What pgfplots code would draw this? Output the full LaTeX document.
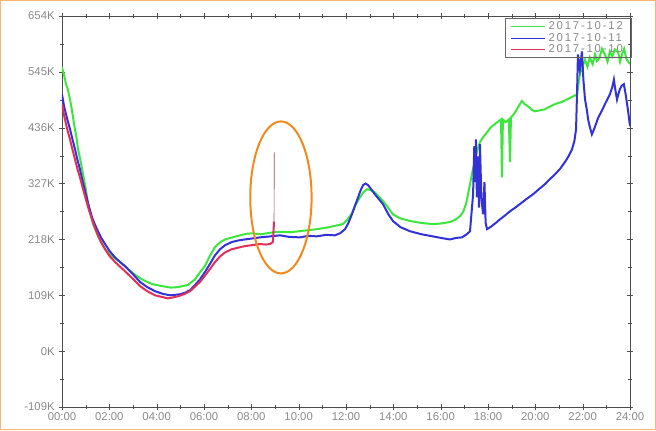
\documentclass[border=0pt]{standalone}
\usepackage{fontspec}
\setmainfont{Liberation Sans}
\usepackage{pgfplots}
\pgfplotsset{compat=1.18}

\definecolor{lgreen}{HTML}{3CE63C}
\definecolor{lblue}{HTML}{3232D8}
\definecolor{lred}{HTML}{E0305A}
\definecolor{frameor}{HTML}{F7B774}
\definecolor{ringor}{HTML}{F08A1E}
\definecolor{lbl}{HTML}{8A8A8A}

\begin{document}
\begin{tikzpicture}
\begin{axis}[
  scale only axis,
  width=426pt, height=293.25pt,
  xmin=0, xmax=24,
  ymin=-109, ymax=654,
  xtick={0,2,...,24},
  xticklabels={00:00,02:00,04:00,06:00,08:00,10:00,12:00,14:00,16:00,18:00,20:00,22:00,24:00},
  ytick={-109,0,109,218,327,436,545,654},
  yticklabels={-109K,0K,109K,218K,327K,436K,545K,654K},
  minor x tick num=1,
  minor y tick num=1,
  tick align=center,
  major tick length=4pt, minor tick length=2.5pt,
  tick style={black!70},
  axis line style={black!70},
  ticklabel style={font=\fontsize{8.5}{9}\selectfont, text=lbl},
  xticklabel style={yshift=1pt},
  legend style={at={(rel axis cs:1.002,0.994)}, anchor=north east,
    font=\fontsize{8.5}{8.5}\selectfont\addfontfeatures{LetterSpace=16}, text=lbl,
    draw=black!60, fill=none,
    inner xsep=4pt, inner ysep=0.5pt, row sep=-3pt, cells={anchor=west},
    /tikz/every even column/.append style={column sep=4pt}},
  legend image code/.code={\draw[#1] (0pt,0pt) -- (26pt,0pt);},
  legend image post style={line width=0.7pt},
  legend cell align=left,
]
% 2017-10-12
\addplot[lgreen, line width=1.5pt] coordinates {
  (0,554) (0.08,540) (0.17,521) (0.25,510) (0.34,491) (0.42,470) (0.51,443) (0.6,420)
  (0.68,394) (0.78,372) (0.89,345) (1.0,318) (1.10,287) (1.2,268) (1.31,248) (1.42,236)
  (1.52,224) (1.66,212) (1.82,199) (1.96,192) (2.11,185) (2.4,176) (2.66,166) (3.0,152)
  (3.38,140) (3.8,131) (4.22,127) (4.6,124) (4.90,125) (5.1,127) (5.32,129) (5.45,134)
  (5.62,140) (5.8,152) (6.04,166) (6.25,186) (6.46,203) (6.7,213) (6.89,218) (7.2,222)
  (7.52,226) (7.8,229) (8.03,230) (8.4,228) (8.79,231) (9.2,233) (9.63,232) (10.2,235)
  (10.77,238) (11.3,242) (11.87,248) (12.05,256) (12.25,269) (12.4,285) (12.59,300)
  (12.75,311) (12.89,316) (13.05,314) (13.22,310) (13.4,301) (13.56,293) (13.78,280)
  (13.98,267) (14.3,259) (14.70,254) (15.2,250) (15.67,248) (16.0,249) (16.39,252)
  (16.6,256) (16.81,263) (16.95,272) (17.07,287) (17.15,305) (17.24,326) (17.35,352)
  (17.45,374) (17.55,392) (17.66,408) (17.8,418) (17.96,427) (18.1,436) (18.29,443)
  (18.45,449) (18.55,452) (18.59,339) (18.63,452) (18.75,447) (18.88,452) (18.93,369)
  (18.97,456) (19.1,463) (19.22,472) (19.32,480) (19.43,488) (19.55,482) (19.69,478)
  (19.85,471) (19.98,468) (20.2,470) (20.41,472) (20.6,477) (20.83,482) (21.1,486)
  (21.33,491) (21.55,496) (21.76,501) (21.82,520) (21.88,540) (22.0,556) (22.10,569)
  (22.2,555) (22.3,573) (22.42,560) (22.52,579) (22.6,566) (22.7,571) (22.82,590)
  (22.94,579) (23.05,565) (23.15,585) (23.25,575) (23.36,589) (23.5,583) (23.58,565)
  (23.66,579) (23.75,590) (23.85,570) (24.0,560)
};
\addlegendentry{2017-10-12}
% 2017-10-11
\addplot[lblue, line width=1.5pt] coordinates {
  (0,501) (0.08,480) (0.17,462) (0.25,448) (0.34,433) (0.45,412) (0.55,394) (0.65,374)
  (0.76,355) (0.88,330) (1.01,306) (1.14,282) (1.27,261) (1.4,246) (1.52,234) (1.66,221)
  (1.82,209) (2.0,196) (2.24,183) (2.45,174) (2.66,166) (3.0,150) (3.30,135) (3.6,125)
  (3.93,117) (4.25,112) (4.56,109) (4.8,110) (4.99,111) (5.2,114) (5.41,119) (5.6,128)
  (5.83,140) (6.05,155) (6.25,170) (6.45,186) (6.68,199) (6.9,207) (7.18,213) (7.45,216)
  (7.73,218) (8.05,220) (8.36,222) (8.8,224) (9.21,226) (9.6,223) (10.05,222) (10.4,225)
  (10.77,224) (11.15,227) (11.53,226) (11.75,230) (11.96,238) (12.1,250) (12.25,267)
  (12.38,284) (12.51,300) (12.62,314) (12.72,324) (12.83,327) (12.93,324) (13.08,315)
  (13.22,306) (13.4,296) (13.56,287) (13.78,268) (13.98,254) (14.3,242) (14.70,234)
  (15.2,228) (15.67,224) (16.0,221) (16.39,218) (16.65,221) (16.90,222) (17.1,228)
  (17.24,234) (17.37,306) (17.42,400) (17.46,330) (17.49,413) (17.53,300) (17.58,380)
  (17.62,280) (17.66,404) (17.72,300) (17.79,267) (17.85,330) (17.9,250) (17.96,238)
  (18.1,242) (18.21,246) (18.35,251) (18.50,257) (18.7,264) (18.93,273) (19.15,280)
  (19.35,287) (19.6,296) (19.90,306) (20.15,316) (20.41,326) (20.6,335) (20.83,345)
  (21.05,356) (21.25,369) (21.4,380) (21.55,394) (21.65,410) (21.72,433) (21.76,500)
  (21.80,579) (21.88,550) (21.97,585) (22.03,530) (22.10,491) (22.18,470) (22.23,452)
  (22.3,438) (22.39,423) (22.48,433) (22.56,443) (22.65,455) (22.73,462) (22.84,472)
  (22.94,482) (23.05,492) (23.15,501) (23.25,515) (23.32,530) (23.38,510) (23.45,491)
  (23.5,500) (23.57,511) (23.65,518) (23.74,521) (23.82,500) (23.91,472) (24.0,439)
};
\addlegendentry{2017-10-11}
% 2017-10-10
\addplot[lred, line width=1.5pt] coordinates {
  (0,482) (0.08,462) (0.17,443) (0.25,428) (0.34,413) (0.45,392) (0.55,374) (0.65,356)
  (0.76,339) (0.88,318) (1.01,296) (1.14,275) (1.27,257) (1.4,240) (1.52,226) (1.66,212)
  (1.82,199) (2.0,186) (2.24,174) (2.45,165) (2.66,156) (3.0,141) (3.30,127) (3.6,117)
  (3.93,109) (4.2,106) (4.48,103) (4.7,105) (4.90,107) (5.15,111) (5.41,117) (5.6,125)
  (5.83,135) (6.05,148) (6.25,160) (6.45,173) (6.68,185) (6.9,193) (7.18,199) (7.45,202)
  (7.73,205) (8.05,207) (8.36,209) (8.6,208) (8.79,209) (8.91,213) (8.96,253)
};
\addlegendentry{2017-10-10}
\addplot[red!50!black!70, line width=0.5pt, forget plot] coordinates {
  (8.96,253) (8.97,388)
};
\draw[ringor, line width=1.5pt] (axis cs:9.25,300) ellipse [x radius=23pt, y radius=57pt];
\end{axis}
\draw[frameor, line width=1pt] (-46pt,-16.75pt) rectangle (445pt,304.75pt);
\useasboundingbox (-46.5pt,-17.25pt) rectangle (445.5pt,305.25pt);
\end{tikzpicture}
\end{document}
